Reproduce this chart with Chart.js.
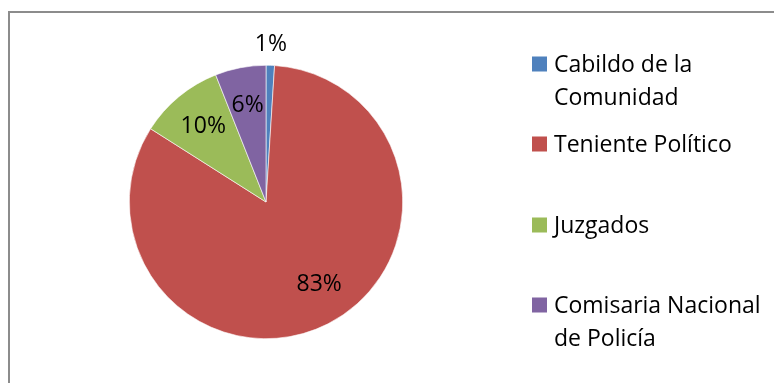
<!DOCTYPE html>
<html>
<head>
<meta charset="utf-8">
<script src="https://cdn.jsdelivr.net/npm/chart.js@4/dist/chart.umd.min.js"></script>
<style>
  html, body { margin: 0; padding: 0; background: #fff; }
  #wrap { width: 774px; height: 383px; position: relative; }
</style>
</head>
<body>
<div id="wrap"><canvas id="c" width="774" height="383"></canvas></div>
<script>
// Categories (each entry is the lines shown in the legend)
const categories = [
  ['Cabildo de la', 'Comunidad'],
  ['Teniente Político'],
  ['Juzgados'],
  ['Comisaria Nacional', 'de Policía']
];
// Share of responses, in percent
const shares = [1, 83, 10, 6];
const sliceColors = ['#4F81BD', '#C0504D', '#9BBB59', '#8064A2'];

const FONT = '23px "Open Sans", sans-serif';

// Outer frame of the chart box
const framePlugin = {
  id: 'frame',
  beforeDraw(chart) {
    const ctx = chart.ctx;
    ctx.save();
    ctx.strokeStyle = '#8c8c8c';
    ctx.lineWidth = 2;
    ctx.beginPath();
    ctx.moveTo(9, 390);
    ctx.lineTo(9, 12);
    ctx.lineTo(780, 12);
    ctx.stroke();
    ctx.restore();
  }
};

// Percentage labels on the slices
const sliceLabels = {
  id: 'sliceLabels',
  afterDatasetsDraw(chart) {
    const ctx = chart.ctx;
    const meta = chart.getDatasetMeta(0);
    const data = chart.data.datasets[0].data;
    const total = data.reduce((a, b) => a + b, 0);
    ctx.save();
    ctx.font = FONT;
    ctx.fillStyle = '#000';
    ctx.textAlign = 'center';
    ctx.textBaseline = 'middle';
    meta.data.forEach((arc, i) => {
      const p = arc.getProps(['x', 'y', 'startAngle', 'endAngle', 'outerRadius'], true);
      let mid = (p.startAngle + p.endAngle) / 2;
      const pct = data[i] / total * 100;
      // the large slice's label sits a little toward its leading edge
      if (pct > 50) mid -= 0.1;
      const dist = pct < 2 ? p.outerRadius + 21 : p.outerRadius * 0.72;
      const x = p.x + Math.cos(mid) * dist;
      const y = p.y + Math.sin(mid) * dist;
      ctx.fillText(Math.round(pct) + '%', x, y);
    });
    ctx.restore();
  }
};

// Legend on the right with wrapped entries
const sideLegend = {
  id: 'sideLegend',
  afterDraw(chart) {
    const ctx = chart.ctx;
    const labels = chart.data.labels;
    const colors = chart.data.datasets[0].backgroundColor;
    const x0 = 532, box = 15, textX = 554, lineH = 33;
    const rowY = [64, 144, 225, 305];
    ctx.save();
    ctx.font = FONT;
    ctx.textBaseline = 'middle';
    ctx.textAlign = 'left';
    labels.forEach((lines, i) => {
      const y = rowY[i];
      ctx.fillStyle = colors[i];
      ctx.fillRect(x0, y - box / 2, box, box);
      ctx.fillStyle = '#000';
      lines.forEach((t, k) => ctx.fillText(t, textX, y + k * lineH + 1));
    });
    ctx.restore();
  }
};

new Chart(document.getElementById('c'), {
  type: 'pie',
  data: {
    labels: categories,
    datasets: [{
      data: shares,
      backgroundColor: sliceColors,
      borderColor: '#ffffff',
      borderWidth: 0.6
    }]
  },
  options: {
    responsive: false,
    animation: false,
    layout: { padding: { left: 129, right: 371, top: 65, bottom: 44 } },
    plugins: {
      legend: { display: false },
      tooltip: { enabled: false }
    }
  },
  plugins: [framePlugin, sliceLabels, sideLegend]
});
</script>
</body>
</html>
